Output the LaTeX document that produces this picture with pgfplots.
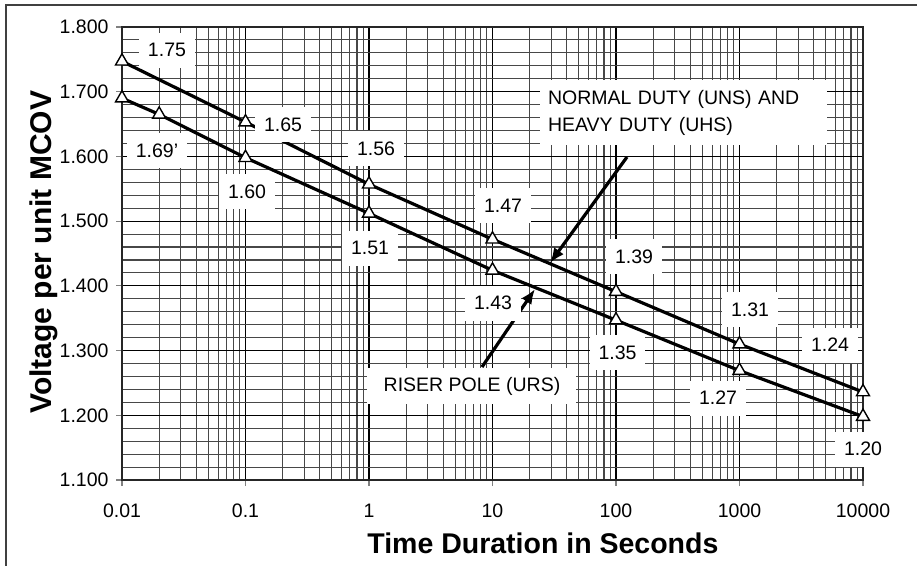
\documentclass[border=0pt]{standalone}
\usepackage{fontspec}
\setmainfont{Liberation Sans}
\usepackage{pgfplots}
\pgfplotsset{compat=1.18}
\usetikzlibrary{arrows.meta}

% upper line: normal duty (UNS) and heavy duty (UHS)
\pgfplotstableread{
t     v
0.01  1.747
0.1   1.653
1     1.557
10    1.472
100   1.391
1000  1.310
10000 1.236
}\uns
% lower line: riser pole (URS)
\pgfplotstableread{
t     v
0.01  1.690
0.02  1.665
0.1   1.598
1     1.512
10    1.424
100   1.347
1000  1.269
10000 1.198
}\urs

\tikzset{lbl/.style={fill=white, inner xsep=9pt, inner ysep=0pt, minimum height=35pt,
  font=\fontsize{19.5}{22}\selectfont}}

\begin{document}
\begin{tikzpicture}
\useasboundingbox (-122pt,-85pt) rectangle (795pt,480pt);
\draw[black!75, line width=1.4pt] (-116pt,-90pt) -- (-116pt,475pt) -- (800pt,475pt);
\begin{axis}[
  at={(0,0)}, anchor=south west,
  scale only axis, width=741pt, height=453pt,
  xmode=log, xmin=0.01, xmax=10000, ymin=1.1, ymax=1.8,
  xtick={0.01,0.1,1,10,100,1000,10000},
  xticklabels={0.01,0.1,1,10,100,1000,10000},
  ytick={1.1,1.2,...,1.81},
  minor y tick num=4,
  grid=both,
  major grid style={black, line width=1.1pt},
  minor grid style={black!72, line width=1.1pt},
  axis line style={black!85, line width=1.1pt},
  tick align=outside, tick pos=left,
  major tick style={line width=1.1pt},
  major tick length=6pt, minor tick length=0pt,
  /pgf/number format/assume math mode=true,
  yticklabel style={/pgf/number format/fixed, /pgf/number format/zerofill,
    /pgf/number format/precision=3, xshift=-4pt},
  xticklabel style={anchor=north, text height=14pt, text depth=0pt, yshift=-14pt},
  every tick label/.append style={font=\fontsize{19.5}{22}\selectfont},
  xlabel={Time Duration in Seconds},
  ylabel={Voltage per unit MCOV},
  xlabel style={font=\bfseries\fontsize{28.5}{32}\selectfont,
    at={(axis description cs:0.568,-0.139)}, anchor=center},
  ylabel style={font=\bfseries\fontsize{30}{34}\selectfont,
    at={(axis description cs:-0.106,0.503)}, anchor=center},
  clip=false,
]
\addplot[black, line width=3.2pt, mark=triangle*,
  mark options={solid, fill=white, draw=black, line width=1.4pt}, mark size=7.5pt]
  table[x=t, y=v] {\uns};
\addplot[black, line width=3.2pt, mark=triangle*,
  mark options={solid, fill=white, draw=black, line width=1.4pt}, mark size=7.5pt]
  table[x=t, y=v] {\urs};

\draw[-{Latex[length=15pt,width=12pt]}, line width=3.2pt] (axis description cs:0.6815,0.713) -- (axis description cs:0.5776,0.479);
\draw[-{Latex[length=15pt,width=12pt]}, line width=3.2pt] (axis description cs:0.4858,0.2494) -- (axis description cs:0.5574,0.4216);

\node[lbl] at (axis description cs:0.0607,0.949) {1.75};
\node[lbl] at (axis description cs:0.2173,0.7837) {1.65};
\node[lbl] at (axis description cs:0.3428,0.7307) {1.56};
\node[lbl] at (axis description cs:0.5142,0.6049) {1.47};
\node[lbl] at (axis description cs:0.6910,0.4923) {1.39};
\node[lbl] at (axis description cs:0.8475,0.3753) {1.31};
\node[lbl] at (axis description cs:0.9555,0.2980) {1.24};
\node[lbl] at (axis description cs:0.0472,0.7263) {1.69'};
\node[lbl] at (axis description cs:0.1687,0.6358) {1.60};
\node[lbl] at (axis description cs:0.3347,0.5121) {1.51};
\node[lbl] at (axis description cs:0.5007,0.3907) {1.43};
\node[lbl] at (axis description cs:0.6687,0.2804) {1.35};
\node[lbl] at (axis description cs:0.8043,0.1810) {1.27};
\node[lbl] at (axis description cs:1.0000,0.0684) {1.20};

\node[fill=white, align=left, text width=271pt, inner xsep=8pt, minimum height=65pt,
  font=\fontsize{19.5}{27}\selectfont]
  at (axis description cs:0.7578,0.8113) {NORMAL DUTY (UNS) AND\\HEAVY DUTY (UHS)};
\node[fill=white, minimum width=209pt, minimum height=36pt,
  font=\fontsize{19.5}{22}\selectfont]
  at (axis description cs:0.4723,0.2075) {RISER POLE (URS)};
\end{axis}
\end{tikzpicture}
\end{document}
